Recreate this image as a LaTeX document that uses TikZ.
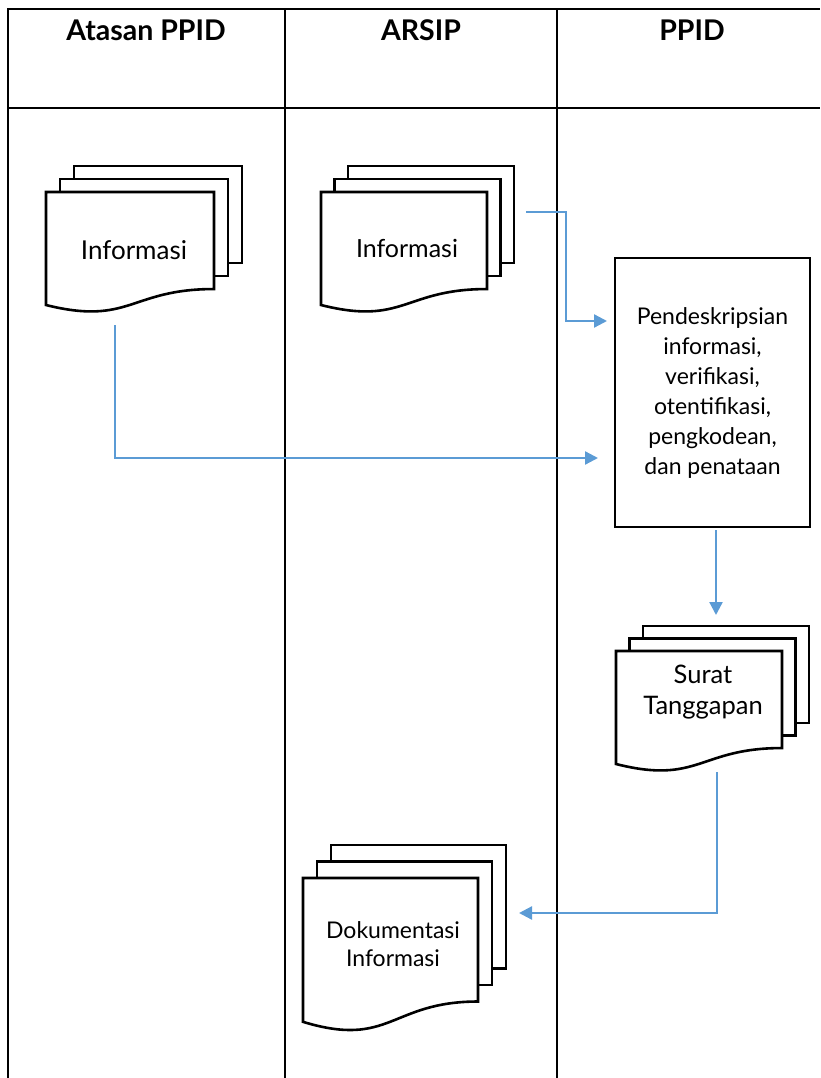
\documentclass[tikz,border=0pt]{standalone}
\usepackage{fontspec}
\setmainfont{Lato}
\usetikzlibrary{arrows.meta}
\definecolor{flowblue}{RGB}{91,155,213}

\newcommand{\docstack}[6]{%
  \draw[sheet] ({#1+2*#5},{#2-2*#6}) rectangle ({#1+#3+2*#5},{#2-2*#6+0.802*#4});
  \draw[sheet] ({#1+#5},{#2-#6}) rectangle ({#1+#3+#5},{#2-#6+0.802*#4});
  \draw[sheet] (#1,#2) -- ({#1+#3},#2) -- ({#1+#3},{#2+0.802*#4})
    .. controls ({#1+0.5*#3},{#2+0.802*#4}) and ({#1+0.5*#3},{#2+1.107*#4}) .. (#1,{#2+0.934*#4}) -- cycle;
}

\begin{document}
\begin{tikzpicture}[x=1pt,y=-1pt,>={Triangle[length=13pt,width=13pt]},
  sheet/.style={draw,line width=2.6pt,fill=white,line join=miter},
  lane/.style={line width=2pt},
  lanehead/.style={font=\bfseries\fontsize{28.5}{32}\selectfont},
  doctext/.style={align=center,font=\fontsize{26}{31}\selectfont},
  procbox/.style={draw,line width=2.6pt,minimum width=195pt,minimum height=269pt,align=center,font=\fontsize{23}{30}\selectfont},
  flow/.style={->,draw=flowblue,line width=2.3pt}]

\useasboundingbox (0,0) rectangle (820,1078);

\draw[lane] (8,1078) -- (8,9) -- (820,9);
\draw[lane] (8,108) -- (820,108);
\draw[lane] (285,9) -- (285,1078);
\draw[lane] (557,9) -- (557,1078);

\node[lanehead] (atasan) at (146,30) {Atasan PPID};
\node[lanehead] (arsip) at (421,30) {ARSIP};
\node[lanehead] (ppid) at (692,30) {PPID};

\docstack{46}{192}{168}{121}{14}{13}
\docstack{321}{192}{166}{121}{13.5}{13}
\docstack{616}{651}{166}{121}{13.5}{12.5}
\docstack{303}{878}{175}{154}{14}{16.5}

\node[doctext] (infoA) at (134,250) {Informasi};
\node[doctext,font=\fontsize{25}{31}\selectfont] (infoB) at (407,248) {Informasi};
\node[doctext,font=\fontsize{25.5}{31}\selectfont] (surat) at (703,692) {Surat\\Tanggapan};
\node[doctext,font=\fontsize{23}{28}\selectfont] (dok) at (393,944) {Dokumentasi\\Informasi};

\node[procbox] (proc) at (712.5,392.5) {Pendeskripsian\\informasi,\\verifikasi,\\otentifikasi,\\pengkodean,\\dan penataan};

\coordinate (aOut) at (115,325);
\coordinate (pInA) at (598,458);
\coordinate (bOut) at (526,212);
\coordinate (pInB) at (607,321);
\coordinate (pOut) at (716,530);
\coordinate (sIn) at (716,615);
\coordinate (sOut) at (717,772);
\coordinate (dIn) at (519,913);

\draw[flow] (aOut) |- (pInA);
\draw[flow] (bOut) -- ++(40,0) |- (pInB);
\draw[flow] (pOut) -- (sIn);
\draw[flow] (sOut) |- (dIn);

\end{tikzpicture}
\end{document}
